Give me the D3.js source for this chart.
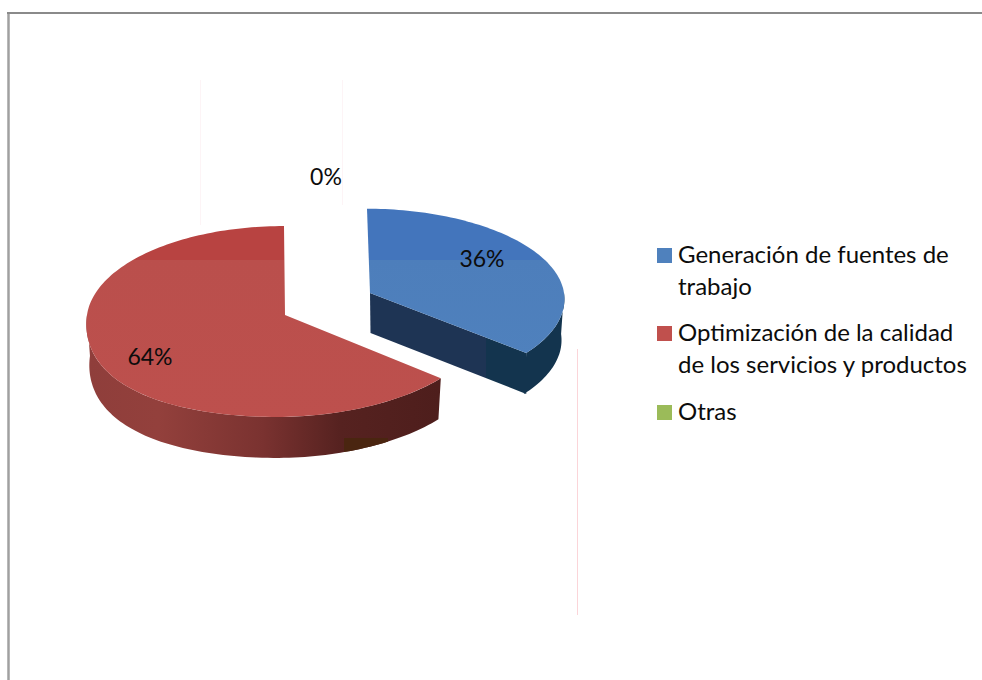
<!DOCTYPE html>
<html>
<head>
<meta charset="utf-8">
<script src="https://cdn.jsdelivr.net/npm/d3@7"></script>
<style>
html, body { margin: 0; padding: 0; background: #fff; }
svg { display: block; }
text { font-family: Lato, "Open Sans", sans-serif; fill: #0c0c0c; }
</style>
</head>
<body>
<script>
// chart values
const categories = ['Generación de fuentes de trabajo', 'Optimización de la calidad de los servicios y productos', 'Otras'];
const legendLines = [['Generación de fuentes de', 'trabajo'], ['Optimización de la calidad', 'de los servicios y productos'], ['Otras']];
const values = [36, 64, 0];
const colors = ['#4F81BD', '#C0504D', '#9BBB59'];

const width = 982, height = 680;

// layout of the slices, same order as categories
const apex = [[370, 293], [285, 315], [285, 315]];
const radiusY = [90, 95, 95];
const radiusX = [194, 198, 198];
const leanBack = [-3, -1, -1];
const leanFront = [0, -9, -9];
const bulge = [0, 22, 22];
const labelPos = [[482, 267], [150, 365], [326, 185]];
const legendY = [263, 341, 420];
const perspective = 0.068;
const depth = 41;

const svg = d3.select('body').append('svg').attr('width', width).attr('height', height);
const defs = svg.append('defs');

// faint leftovers and the frame of the scan
[[200, 80, 200, 225], [342, 80, 342, 205]].forEach(l => {
    svg.append('line').attr('x1', l[0] + 0.5).attr('y1', l[1]).attr('x2', l[2] + 0.5).attr('y2', l[3])
        .attr('stroke', '#fdf4f6').attr('stroke-width', 1);
});
svg.append('line').attr('x1', 577.5).attr('y1', 349).attr('x2', 577.5).attr('y2', 615)
    .attr('stroke', '#fbd5d9').attr('stroke-width', 1);
svg.append('path').attr('d', 'M8.5,680V13').attr('fill', 'none').attr('stroke', '#a0a0a0').attr('stroke-width', 2.5);
svg.append('path').attr('d', 'M7,13H982').attr('fill', 'none').attr('stroke', '#8a8a8a').attr('stroke-width', 2);

// flat disc seen in perspective: angle is clockwise from twelve o'clock
function project(i, angle, drop, shrink) {
    const X = Math.sin(angle), Z = Math.cos(angle);
    const s = 1 / (1 + perspective * Z);
    let lean = (Z > 0 ? leanBack[i] : leanFront[i]) * Z * Z;
    // lower left of the disc is fuller than a true ellipse
    if (Z < 0 && X < 0) lean -= bulge[i] * Math.abs(X) * Z * Z;
    return [apex[i][0] + radiusX[i] * shrink * X * s + lean, apex[i][1] - radiusY[i] * Z * s + drop];
}

function arcPoints(i, a0, a1, drop, shrink) {
    const n = Math.max(2, Math.ceil(Math.abs(a1 - a0) * 40));
    return d3.range(n + 1).map(k => project(i, a0 + (a1 - a0) * k / n, drop, shrink));
}

const line = d3.line();
const slices = d3.pie().value(d => d).sort(null)(values);

function gradient(id, stops) {
    const g = defs.append('linearGradient').attr('id', id)
        .attr('gradientUnits', 'userSpaceOnUse')
        .attr('x1', stops.x1).attr('y1', stops.y1).attr('x2', stops.x2).attr('y2', stops.y2);
    stops.list.forEach(s => g.append('stop').attr('offset', s[0]).attr('stop-color', s[1]));
    return 'url(#' + id + ')';
}

const BAND = 260;
const topFill = [
    gradient('top0', {x1: 0, y1: 209, x2: 0, y2: 360, list: [[0, '#4375BC'], [(BAND - 209) / 151, '#4375BC'], [(BAND - 209) / 151, '#4D7EBB'], [1, '#4F81BD']]}),
    gradient('top1', {x1: 0, y1: 226, x2: 0, y2: 420, list: [[0, '#B84341'], [(BAND - 226) / 194, '#B84341'], [(BAND - 226) / 194, '#BA4F4C'], [1, '#BD504D']]}),
    '#9BBB59'
];
const wallFill = [
    gradient('wall0', {x1: 369, y1: 0, x2: 565, y2: 0, list: [[0, '#1E3454'], [0.595, '#1E3454'], [0.595, '#13344E'], [1, '#13344E']]}),
    gradient('wall1', {x1: 88, y1: 0, x2: 438, y2: 0, list: [[0, '#8F3E3B'], [0.2, '#93403C'], [0.5, '#7A3230'], [0.72, '#562220'], [1, '#4E1E1C']]}),
    '#76923C'
];

const pie = svg.append('g');
// red first, then blue
[1, 0].forEach(i => {
    const d = slices[i];
    const top = arcPoints(i, d.startAngle, d.endAngle, 0, 1);
    const g = pie.append('g');

    // cut face at the end angle, only blue shows it
    if (i === 0) {
        const endTop = top[top.length - 1];
        g.append('path')
            .attr('d', line([apex[i], endTop, [endTop[0], endTop[1] + depth], [apex[i][0] + 0.5, apex[i][1] + depth - 1]]) + 'Z')
            .attr('fill', wallFill[i]);
    }

    // outer wall, only the part of the rim facing us
    const a0 = Math.max(d.startAngle, Math.PI / 2);
    const a1 = Math.min(d.endAngle, Math.PI * 3 / 2);
    const rimTop = arcPoints(i, a0, a1, 0, 1);
    const rimBottom = arcPoints(i, a1, a0, depth, 0.985);
    const wall = line(rimTop.concat(rimBottom)) + 'Z';
    g.append('path').attr('d', wall).attr('fill', wallFill[i]);

    // compression blotch on the red wall
    if (i === 1) {
        defs.append('clipPath').attr('id', 'wallClip').append('path').attr('d', wall);
        g.append('rect').attr('x', 344).attr('y', 438).attr('width', 44).attr('height', 14)
            .attr('fill', '#4A2510').attr('clip-path', 'url(#wallClip)');
    }

    g.append('path').attr('d', line([apex[i]].concat(top)) + 'Z').attr('fill', topFill[i]);
});

// percent labels
svg.selectAll('text.pct').data(slices).enter().append('text')
    .attr('class', 'pct')
    .attr('x', (d, i) => labelPos[i][0])
    .attr('y', (d, i) => labelPos[i][1])
    .attr('text-anchor', 'middle')
    .style('font-size', '23px')
    .text(d => d.value + '%');

// legend
const legend = svg.selectAll('g.legend').data(categories).enter().append('g').attr('class', 'legend');
legend.append('rect')
    .attr('x', 657).attr('y', (d, i) => legendY[i] - 15)
    .attr('width', 15).attr('height', 15)
    .attr('fill', (d, i) => colors[i]);
legend.each(function(d, i) {
    d3.select(this).selectAll('text').data(legendLines[i]).enter().append('text')
        .attr('x', 678)
        .attr('y', (t, k) => legendY[i] + k * 31.5)
        .style('font-size', '24px')
        .text(t => t);
});
</script>
</body>
</html>
